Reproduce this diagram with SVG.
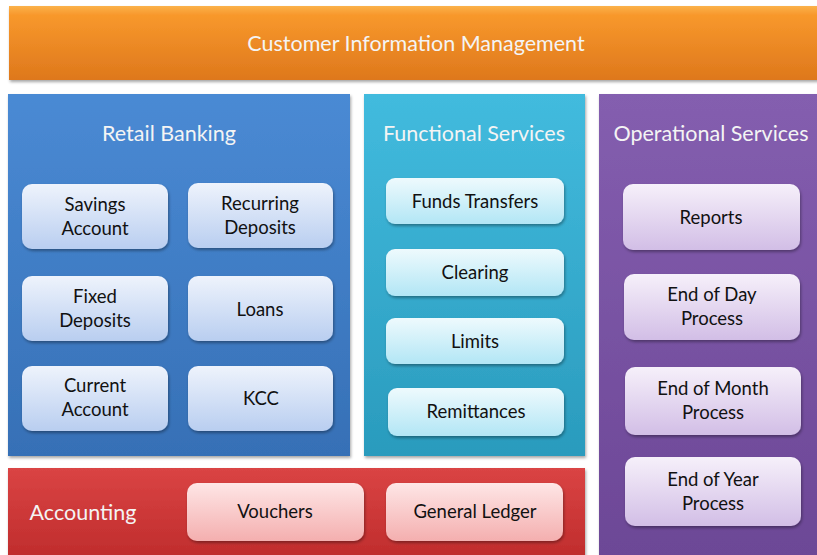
<svg xmlns="http://www.w3.org/2000/svg" width="817" height="555" viewBox="0 0 817 555">
<defs>
<linearGradient id="gOrange" x1="0" y1="0" x2="0" y2="1"><stop offset="0" stop-color="#FBB24A"/><stop offset="0.12" stop-color="#F8982C"/><stop offset="1" stop-color="#DE781C"/></linearGradient>
<linearGradient id="gBlue" x1="0" y1="0" x2="0" y2="1"><stop offset="0" stop-color="#4A8AD4"/><stop offset="1" stop-color="#3670B6"/></linearGradient>
<linearGradient id="gTeal" x1="0" y1="0" x2="0" y2="1"><stop offset="0" stop-color="#42BBDE"/><stop offset="1" stop-color="#2A9BBD"/></linearGradient>
<linearGradient id="gPurple" x1="0" y1="0" x2="0" y2="1"><stop offset="0" stop-color="#845EAF"/><stop offset="1" stop-color="#6C4796"/></linearGradient>
<linearGradient id="gRed" x1="0" y1="0" x2="0" y2="1"><stop offset="0" stop-color="#DA4444"/><stop offset="1" stop-color="#BF2C2C"/></linearGradient>
<linearGradient id="bBlue" x1="0" y1="0" x2="0" y2="1"><stop offset="0" stop-color="#EEF3FC"/><stop offset="1" stop-color="#B9CEF0"/></linearGradient>
<linearGradient id="bTeal" x1="0" y1="0" x2="0" y2="1"><stop offset="0" stop-color="#EEFAFD"/><stop offset="1" stop-color="#B2E6F5"/></linearGradient>
<linearGradient id="bPurple" x1="0" y1="0" x2="0" y2="1"><stop offset="0" stop-color="#F6F0FA"/><stop offset="1" stop-color="#D2BEE6"/></linearGradient>
<linearGradient id="bRed" x1="0" y1="0" x2="0" y2="1"><stop offset="0" stop-color="#FEE6E6"/><stop offset="1" stop-color="#F4AFAF"/></linearGradient>
<filter id="sh" x="-10%" y="-10%" width="125%" height="130%"><feDropShadow dx="1" dy="2" stdDeviation="1.5" flood-color="#000" flood-opacity="0.35"/></filter>
</defs>
<style>
.panel{filter:url(#sh)}
.box{filter:url(#sh)}
.t{font-family:Lato,"Liberation Sans",sans-serif;text-anchor:middle}
.title{fill:#F4F4F4;font-size:21.5px}
.lbl{fill:#111111;font-size:18.5px}
</style>
<rect width="817" height="555" fill="#FFFFFF"/>
<g id="customer-information-management">
<rect class="panel" x="9" y="6" width="812" height="74" fill="url(#gOrange)"/>
<text class="t title" x="416" y="51">Customer Information Management</text>
</g>
<g id="retail-banking">
<rect class="panel" x="8" y="94" width="342" height="362" fill="url(#gBlue)"/>
<text class="t title" x="169" y="141">Retail Banking</text>
</g>
<g id="functional-services">
<rect class="panel" x="364" y="94" width="221" height="362" fill="url(#gTeal)"/>
<text class="t title" x="474" y="141">Functional Services</text>
</g>
<g id="operational-services">
<rect class="panel" x="599" y="94" width="222" height="465" fill="url(#gPurple)"/>
<text class="t title" x="711" y="141">Operational Services</text>
</g>
<g id="accounting">
<rect class="panel" x="8" y="468" width="577" height="91" fill="url(#gRed)"/>
<text class="t title" x="83" y="520">Accounting</text>
</g>
<g id="savings-account"><rect class="box" x="22" y="184" width="146" height="65" rx="10" fill="url(#bBlue)"/><text class="t lbl" x="95" y="211">Savings</text><text class="t lbl" x="95" y="235">Account</text></g>
<g id="recurring-deposits"><rect class="box" x="188" y="183" width="145" height="65" rx="10" fill="url(#bBlue)"/><text class="t lbl" x="260" y="210">Recurring</text><text class="t lbl" x="260" y="234">Deposits</text></g>
<g id="fixed-deposits"><rect class="box" x="22" y="276" width="146" height="65" rx="10" fill="url(#bBlue)"/><text class="t lbl" x="95" y="303">Fixed</text><text class="t lbl" x="95" y="327">Deposits</text></g>
<g id="loans"><rect class="box" x="188" y="276" width="145" height="65" rx="10" fill="url(#bBlue)"/><text class="t lbl" x="260" y="316">Loans</text></g>
<g id="current-account"><rect class="box" x="22" y="366" width="146" height="65" rx="10" fill="url(#bBlue)"/><text class="t lbl" x="95" y="392">Current</text><text class="t lbl" x="95" y="416">Account</text></g>
<g id="kcc"><rect class="box" x="188" y="366" width="145" height="65" rx="10" fill="url(#bBlue)"/><text class="t lbl" x="261" y="405">KCC</text></g>
<g id="funds-transfers"><rect class="box" x="386" y="178" width="178" height="46" rx="9" fill="url(#bTeal)"/><text class="t lbl" x="475" y="208">Funds Transfers</text></g>
<g id="clearing"><rect class="box" x="386" y="249" width="178" height="47" rx="9" fill="url(#bTeal)"/><text class="t lbl" x="475" y="279">Clearing</text></g>
<g id="limits"><rect class="box" x="386" y="318" width="178" height="46" rx="9" fill="url(#bTeal)"/><text class="t lbl" x="475" y="348">Limits</text></g>
<g id="remittances"><rect class="box" x="388" y="388" width="176" height="48" rx="9" fill="url(#bTeal)"/><text class="t lbl" x="476" y="418">Remittances</text></g>
<g id="reports"><rect class="box" x="623" y="184" width="177" height="66" rx="10" fill="url(#bPurple)"/><text class="t lbl" x="711" y="224">Reports</text></g>
<g id="end-of-day"><rect class="box" x="624" y="274" width="176" height="66" rx="10" fill="url(#bPurple)"/><text class="t lbl" x="712" y="301">End of Day</text><text class="t lbl" x="712" y="325">Process</text></g>
<g id="end-of-month"><rect class="box" x="625" y="367" width="176" height="68" rx="10" fill="url(#bPurple)"/><text class="t lbl" x="713" y="395">End of Month</text><text class="t lbl" x="713" y="419">Process</text></g>
<g id="end-of-year"><rect class="box" x="625" y="457" width="176" height="69" rx="10" fill="url(#bPurple)"/><text class="t lbl" x="713" y="486">End of Year</text><text class="t lbl" x="713" y="510">Process</text></g>
<g id="vouchers"><rect class="box" x="187" y="483" width="177" height="58" rx="10" fill="url(#bRed)"/><text class="t lbl" x="275" y="518">Vouchers</text></g>
<g id="general-ledger"><rect class="box" x="386" y="483" width="177" height="58" rx="10" fill="url(#bRed)"/><text class="t lbl" x="475" y="518">General Ledger</text></g>
<g id="connectors"></g>
</svg>
